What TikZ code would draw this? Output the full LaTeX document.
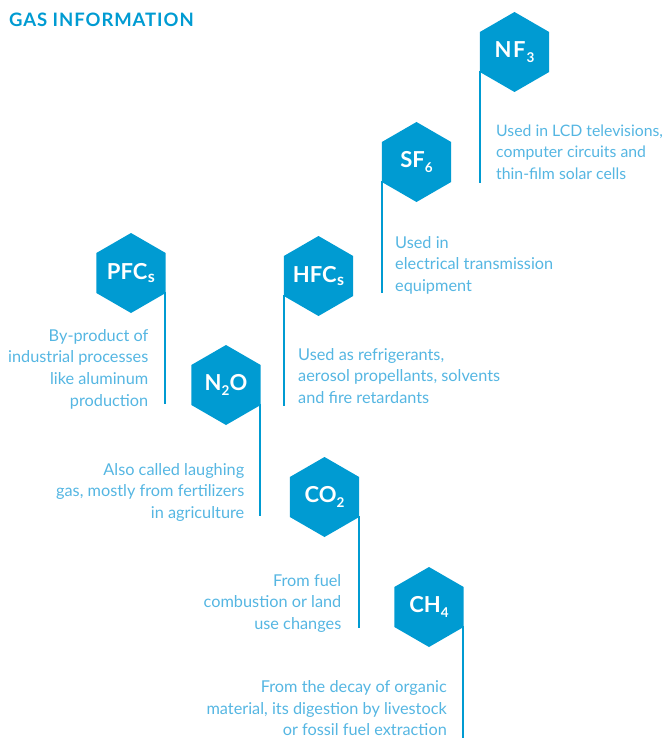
\documentclass[tikz,border=0pt]{standalone}
\usepackage{fontspec}
\setmainfont{Lato}
\usetikzlibrary{shapes.geometric,calc}
\definecolor{hexblue}{RGB}{0,155,210}
\definecolor{txtblue}{RGB}{85,182,226}
\newcommand{\gassub}[1]{\raisebox{-0.25em}{\fontsize{13.5}{13.5}\selectfont #1}}
\begin{document}
\begin{tikzpicture}[x=1pt,y=-1pt,
  hex/.style={regular polygon, regular polygon sides=6, shape border rotate=30,
    minimum size=80pt, inner sep=0pt, fill=hexblue, draw=none},
  hexlabel/.style={text=white, font=\bfseries\fontsize{22}{22}\selectfont, inner sep=0pt},
  conn/.style={draw=hexblue, line width=2pt},
  descl/.style={text=txtblue, font=\fontsize{16.3}{21.6}\selectfont, align=left, inner sep=0pt, anchor=north west},
  descr/.style={text=txtblue, font=\fontsize{16.3}{21.6}\selectfont, align=right, inner sep=0pt, anchor=north east}]
\useasboundingbox (0,0) rectangle (666,738);

\node[anchor=base west, inner sep=0pt, text=hexblue, font=\bfseries\fontsize{18.5}{19}\selectfont\addfontfeatures{LetterSpace=5}] (title) at (9,27) {GAS INFORMATION};

% hexagons
\node[hex, label={[hexlabel]center:N\kern1.5pt F\kern1pt\gassub{3}}] (nf) at (514.5,52) {};
\node[hex, label={[hexlabel]center:SF\gassub{6}}] (sf) at (416.5,162) {};
\node[hex, label={[hexlabel]center:HFC\kern0.5pt\raisebox{-0.1em}{\fontsize{16}{16}\selectfont s}}] (hfc) at (318.5,276) {};
\node[hex, label={[hexlabel]center:PFC\kern0.5pt\raisebox{-0.1em}{\fontsize{16}{16}\selectfont s}}] (pfc) at (131,273) {};
\node[hex, label={[hexlabel]center:N\gassub{2}O}] (nto) at (226,385) {};
\node[hex, label={[hexlabel]center:CO\gassub{2}}] (co) at (324.5,497) {};
\node[hex, label={[hexlabel]center:CH\gassub{4}}] (ch) at (429,607) {};

% line ends
\coordinate (nfe) at ($(nf.center)+(-34.1,131)$);
\coordinate (sfe) at ($(sf.center)+(-34.1,131)$);
\coordinate (hfce) at ($(hfc.center)+(-34.1,130)$);
\coordinate (pfce) at ($(pfc.center)+(34.1,131)$);
\coordinate (ntoe) at ($(nto.center)+(34.1,131)$);
\coordinate (coe) at ($(co.center)+(34.1,131)$);
\coordinate (che) at ($(ch.center)+(34.1,131)$);

\draw[conn] ($(nf.center)+(-34.1,19)$) -- (nfe);
\draw[conn] ($(sf.center)+(-34.1,19)$) -- (sfe);
\draw[conn] ($(hfc.center)+(-34.1,19)$) -- (hfce);
\draw[conn] ($(pfc.center)+(34.1,19)$) -- (pfce);
\draw[conn] ($(nto.center)+(34.1,19)$) -- (ntoe);
\draw[conn] ($(co.center)+(34.1,19)$) -- (coe);
\draw[conn] ($(ch.center)+(34.1,19)$) -- (che);

% descriptions
\node[descl, font=\fontsize{15.8}{21.6}\selectfont] (nft) at (496,124.3) {Used in LCD televisions,\\computer circuits and\\thin-film solar cells};
\node[descl] (sft) at (395,236) {Used in\\electrical transmission\\equipment};
\node[descl] (hfct) at (298,348) {Used as refrigerants,\\aerosol propellants, solvents\\and fire retardants};
\node[descr] (pfct) at (148.5,329) {By-product of\\industrial processes\\like aluminum\\production};
\node[descr] (ntot) at (244.5,463) {Also called laughing\\gas, mostly from fertilizers\\in agriculture};
\node[descr] (cot) at (341.5,574) {From fuel\\combustion or land\\use changes};
\node[descr] (cht) at (447,680.5) {From the decay of organic\\material, its digestion by livestock\\or fossil fuel extraction};
\end{tikzpicture}
\end{document}
